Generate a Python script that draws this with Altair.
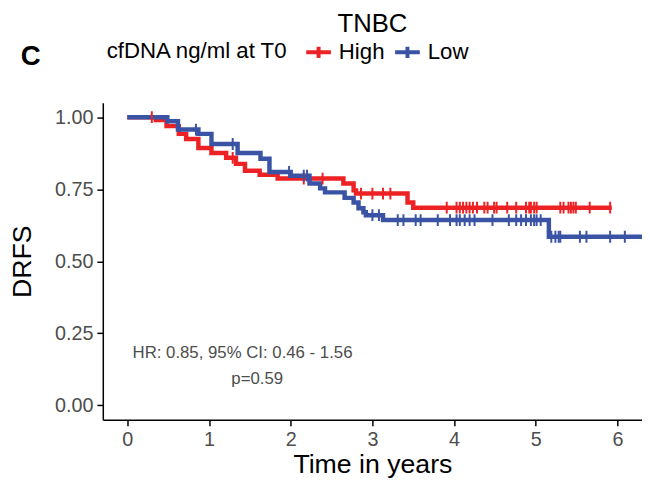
import bisect
import altair as alt
import pandas as pd

# ---- data ----
groups = ["High", "Low"]
colors = ["#ED2224", "#3A53A4"]

high_times = [0, 0.35, 0.48, 0.63, 0.72, 0.87, 1.03, 1.21, 1.33, 1.44, 1.62, 1.84,
              2.645, 2.77, 2.80, 3.43, 3.50, 5.93]
high_surv = [1.0, 0.99, 0.969, 0.942, 0.924, 0.893, 0.876, 0.859, 0.838, 0.814, 0.80, 0.787,
             0.77, 0.746, 0.735, 0.704, 0.686, 0.686]

low_times = [0, 0.49, 0.62, 0.87, 1.03, 1.35, 1.63, 1.74, 2.0, 2.23, 2.36, 2.42, 2.66,
             2.77, 2.83, 2.89, 2.92, 3.13, 5.16, 6.3]
low_surv = [1.0, 0.986, 0.957, 0.942, 0.907, 0.876, 0.856, 0.81, 0.797, 0.77, 0.753, 0.739,
            0.72, 0.704, 0.684, 0.67, 0.66, 0.643, 0.585, 0.585]

high_censor = [0.30, 1.29, 2.16, 2.39, 2.86, 3.0, 3.13, 3.22, 3.91, 4.03, 4.07, 4.11, 4.15,
               4.19, 4.23, 4.28, 4.37, 4.41, 4.49, 4.52, 4.65, 4.76, 4.88, 4.92, 4.94, 4.98,
               5.01, 5.30, 5.34, 5.40, 5.43, 5.46, 5.49, 5.66, 5.91]
low_censor = [0.84, 1.29, 1.98, 2.16, 2.20, 3.0, 3.08, 3.31, 3.38, 3.53, 3.59, 3.80, 3.95,
              4.03, 4.07, 4.13, 4.19, 4.25, 4.47, 4.67, 4.76, 4.82, 4.88, 4.94, 4.98, 5.01,
              5.06, 5.19, 5.24, 5.28, 5.30, 5.54, 5.62, 5.91, 6.09]

x_ticks = [0, 1, 2, 3, 4, 5, 6]
y_ticks = [0, 0.25, 0.5, 0.75, 1.0]

annot_text = ["HR: 0.85, 95% CI: 0.46 - 1.56", "p=0.59"]
annot_x = [1.41, 1.59]
annot_y = [0.182, 0.093]

panel_label = ["C"]


def step_value(times, surv, t):
    i = bisect.bisect_right(times, t) - 1
    return surv[max(i, 0)]


curve_rows = []
for g, ts, ss in [("High", high_times, high_surv), ("Low", low_times, low_surv)]:
    for t, s in zip(ts, ss):
        curve_rows.append({"time": t, "surv": s, "group": g})
curves = pd.DataFrame(curve_rows)

cens_rows = []
for g, cs, ts, ss in [("High", high_censor, high_times, high_surv),
                      ("Low", low_censor, low_times, low_surv)]:
    for c in cs:
        cens_rows.append({"time": c, "surv": step_value(ts, ss, c), "group": g})
cens = pd.DataFrame(cens_rows)

annots = pd.DataFrame({"label": annot_text, "time": annot_x, "surv": annot_y})
plabel = pd.DataFrame({"label": panel_label})

FONT = "Liberation Sans"

x_scale = alt.Scale(domain=[-0.3, 6.3], nice=False, zero=False)
y_scale = alt.Scale(domain=[-0.05, 1.05], nice=False, zero=False)
color_scale = alt.Scale(domain=groups, range=colors)

x_enc = alt.X("time:Q", scale=x_scale,
              axis=alt.Axis(values=x_ticks, format="d", title="Time in years",
                            titlePadding=2))
y_enc = alt.Y("surv:Q", scale=y_scale,
              axis=alt.Axis(values=y_ticks, format=".2f", title="DRFS",
                            titlePadding=18))

lines = alt.Chart(curves).mark_line(
    interpolate="step-after", strokeWidth=4.5, clip=True
).encode(
    x=x_enc, y=y_enc,
    color=alt.Color("group:N", scale=color_scale,
                    legend=alt.Legend(title="cfDNA ng/ml at T0", orient="none",
                                      direction="horizontal", titleOrient="left",
                                      legendX=4, legendY=-66, titleLimit=400)),
)

ticks = alt.Chart(cens).mark_point(
    shape="M0,-1V1", filled=False, strokeWidth=2, size=144, opacity=1, clip=True
).encode(
    x="time:Q", y="surv:Q",
    color=alt.Color("group:N", scale=color_scale),
)

annot = alt.Chart(annots).mark_text(
    font=FONT, fontSize=17, color="#4D4D4D", align="center", baseline="middle"
).encode(x="time:Q", y="surv:Q", text="label:N")

clabel = alt.Chart(plabel).mark_text(
    font=FONT, fontSize=28, fontWeight="bold", color="black", align="center",
    baseline="middle"
).encode(x=alt.value(-73), y=alt.value(-46), text="label:N")

chart = alt.layer(lines, ticks, annot, clabel).properties(
    width=546, height=321,
    title=alt.TitleParams("TNBC", fontSize=26, font=FONT, fontWeight="normal",
                          anchor="middle", color="black", offset=1),
    autosize=alt.AutoSizeParams(type="none"),
    padding={"left": 96, "top": 93, "right": 0, "bottom": 57},
).configure_view(stroke=None).configure_axis(
    domainColor="black", domainWidth=1.5, tickColor="black", tickWidth=1.5,
    tickSize=6, labelColor="#4D4D4D", labelFontSize=20, labelFont=FONT,
    titleFont=FONT, titleFontSize=27, titleFontWeight="normal", titleColor="black",
    grid=False, labelPadding=4,
).configure_legend(
    titleFont=FONT, titleFontSize=22.5, titleFontWeight="normal", titleColor="black",
    labelFont=FONT, labelFontSize=22.5, labelColor="black",
    symbolType="M-1,0H1M0,-0.45V0.45", symbolSize=625, symbolStrokeWidth=4,
    symbolFillColor="transparent", titlePadding=16, columnPadding=2, labelOffset=6,
)

chart.save("out.html", embed_options={"renderer": "svg", "actions": False})
